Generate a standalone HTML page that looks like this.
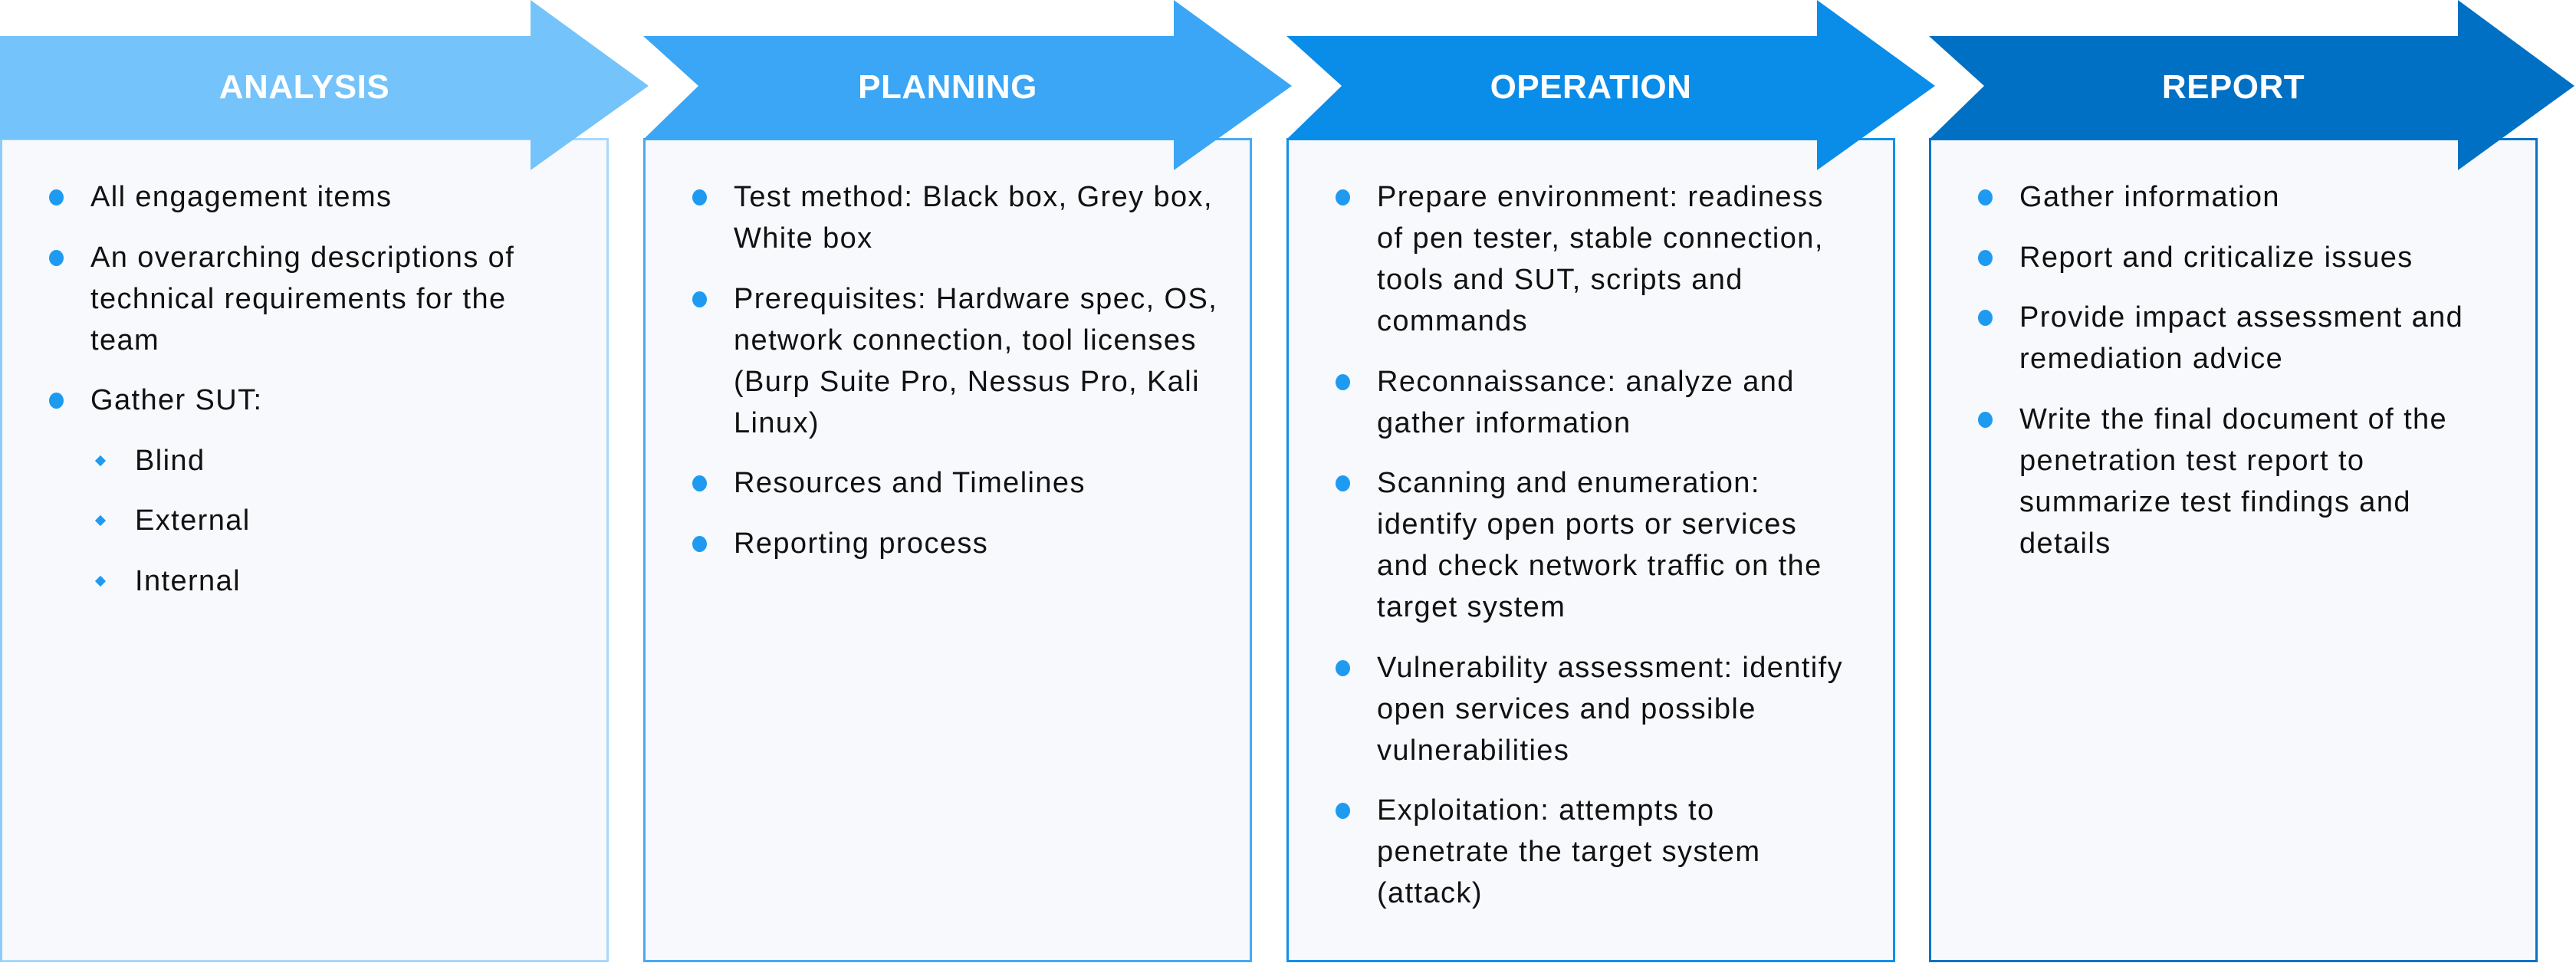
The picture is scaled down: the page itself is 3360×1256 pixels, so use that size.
<!DOCTYPE html>
<html><head><meta charset="utf-8">
<style>
html,body{margin:0;padding:0;background:#fff;}
body{width:3360px;height:1256px;position:relative;overflow:hidden;font-family:"Liberation Sans",sans-serif;}
.col{position:absolute;top:0;width:900px;height:1256px;}
.box{position:absolute;left:0;top:180px;width:788px;height:1069px;background:#f7f9fd;border:3px solid;}
svg{position:absolute;left:0;top:0;overflow:visible;}
.title{position:absolute;left:0;width:794px;top:84px;text-align:center;color:#fff;font-weight:bold;font-size:44px;line-height:60px;letter-spacing:0.5px;}
ul{position:absolute;left:118px;top:230px;margin:0;padding:0;list-style:none;width:700px;}
li{position:relative;font-size:38px;letter-spacing:1.4px;line-height:54px;color:#111;margin-bottom:24.5px;white-space:nowrap;}
li:before{content:"";position:absolute;left:-54px;top:17px;width:19px;height:21px;border-radius:50%;background:#1e9bf0;}
li.sub{margin-left:58px;}
li.sub:before{left:-50px;top:22px;width:10px;height:10px;border-radius:0;transform:rotate(45deg);background:#1e9bf0;}
</style></head><body>

<div class="col" style="left:0">
  <div class="box" style="border-color:#a9d8fa;border-left-color:#8ccbf7"></div>
  <svg width="900" height="230"><polygon points="-10,47 692,47 692,0 846,112 692,222 692,182 -10,182" fill="#74c3fb"/></svg>
  <div class="title">ANALYSIS</div>
  <ul>
    <li>All engagement items</li>
    <li>An overarching descriptions of<br>technical requirements for the<br>team</li>
    <li>Gather SUT:</li>
    <li class="sub">Blind</li>
    <li class="sub">External</li>
    <li class="sub">Internal</li>
  </ul>
</div>

<div class="col" style="left:839px">
  <div class="box" style="border-color:#4aa9f0"></div>
  <svg width="900" height="230"><polygon points="0,47 692,47 692,0 846,112 692,222 692,182 0,182 72,112" fill="#3aa6f5"/></svg>
  <div class="title">PLANNING</div>
  <ul>
    <li>Test method: Black box, Grey box,<br>White box</li>
    <li>Prerequisites: Hardware spec, OS,<br>network connection, tool licenses<br>(Burp Suite Pro, Nessus Pro, Kali<br>Linux)</li>
    <li>Resources and Timelines</li>
    <li>Reporting process</li>
  </ul>
</div>

<div class="col" style="left:1678px">
  <div class="box" style="border-color:#1590e8"></div>
  <svg width="900" height="230"><polygon points="0,47 692,47 692,0 846,112 692,222 692,182 0,182 72,112" fill="#0a8ce9"/></svg>
  <div class="title">OPERATION</div>
  <ul>
    <li>Prepare environment: readiness<br>of pen tester, stable connection,<br>tools and SUT, scripts and<br>commands</li>
    <li>Reconnaissance: analyze and<br>gather information</li>
    <li>Scanning and enumeration:<br>identify open ports or services<br>and check network traffic on the<br>target system</li>
    <li>Vulnerability assessment: identify<br>open services and possible<br>vulnerabilities</li>
    <li>Exploitation: attempts to<br>penetrate the target system<br>(attack)</li>
  </ul>
</div>

<div class="col" style="left:2516px">
  <div class="box" style="border-color:#0b72c4"></div>
  <svg width="900" height="230"><polygon points="0,47 690,47 690,0 842,112 690,222 690,182 0,182 72,112" fill="#0070c4"/></svg>
  <div class="title">REPORT</div>
  <ul>
    <li>Gather information</li>
    <li>Report and criticalize issues</li>
    <li>Provide impact assessment and<br>remediation advice</li>
    <li>Write the final document of the<br>penetration test report to<br>summarize test findings and<br>details</li>
  </ul>
</div>

</body></html>
